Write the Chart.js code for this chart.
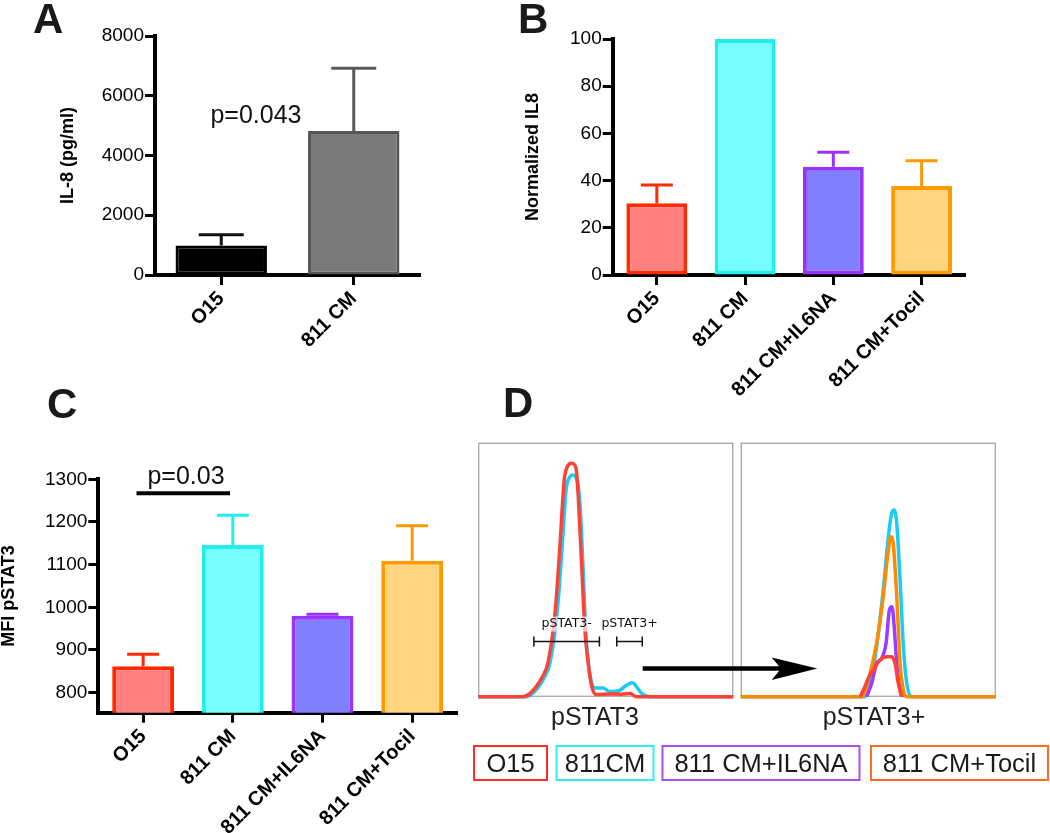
<!DOCTYPE html>
<html>
<head>
<meta charset="utf-8">
<script src="https://cdn.jsdelivr.net/npm/chart.js@4.4.1/dist/chart.umd.min.js"></script>
<style>
  html, body { margin: 0; padding: 0; background: #fff; }
  #fig { position: relative; width: 1050px; height: 833px; overflow: hidden; }
  canvas, svg { position: absolute; }
  svg text { font-family: "Liberation Sans", Arial, sans-serif; }
</style>
</head>
<body>
<div id="fig">
  <canvas id="chart-a" width="440" height="390" style="left:0;top:0"></canvas>
  <canvas id="chart-b" width="520" height="400" style="left:460px;top:0"></canvas>
  <canvas id="chart-c" width="480" height="433" style="left:-10px;top:400px"></canvas>
  <canvas id="chart-d1" width="276" height="276" style="left:468px;top:432px"></canvas>
  <canvas id="chart-d2" width="276" height="276" style="left:730px;top:432px"></canvas>
  <svg width="1050" height="833" style="left:0;top:0">
    <g font-weight="bold" font-size="42" fill="#1a1a1a">
      <text x="33" y="33">A</text>
      <text x="518" y="33">B</text>
      <text x="47" y="418">C</text>
      <text x="503" y="417">D</text>
    </g>
    <text x="256" y="123" font-size="25" text-anchor="middle" fill="#111">p=0.043</text>
    <text x="186" y="484" font-size="25" text-anchor="middle" fill="#111">p=0.03</text>
    <line x1="136.5" y1="493.3" x2="230" y2="493.3" stroke="#000" stroke-width="4"/>
    <line x1="642.7" y1="668.5" x2="782" y2="668.5" stroke="#000" stroke-width="4.5"/>
    <polygon points="817.3,668.5 771.7,657.5 781,668.5 771.7,680" fill="#000"/>
    <g font-size="25" text-anchor="middle" fill="#222">
      <text x="595" y="725">pSTAT3</text>
      <text x="874" y="725">pSTAT3+</text>
    </g>
    <g fill="none" stroke-width="2">
      <rect x="474" y="746" width="73" height="34" stroke="#ff2a2a"/>
      <rect x="556.5" y="746" width="97" height="34" stroke="#2ef0f0"/>
      <rect x="662.5" y="746" width="197" height="34" stroke="#a94ff0"/>
      <rect x="871" y="746" width="177" height="34" stroke="#ff6a2a"/>
    </g>
    <g font-size="25.5" text-anchor="middle" fill="#1a1a1a">
      <text x="510.5" y="771.5">O15</text>
      <text x="605" y="771.5">811CM</text>
      <text x="761" y="771.5">811 CM+IL6NA</text>
      <text x="959.5" y="771.5">811 CM+Tocil</text>
    </g>
  </svg>
</div>
<script>
// A: IL-8 secretion
const il8Groups = ["O15", "811 CM"];
const il8Mean = [990, 4820];
const il8Sem = [360, 2100];

// B and C share the four conditions
const groups = ["O15", "811 CM", "811 CM+IL6NA", "811 CM+Tocil"];
const normIl8Mean = [30.4, 100, 45.9, 37.7];
const normIl8Sem = [7.7, 0, 6.1, 10.7];
const mfiMean = [862, 1146, 980, 1109];
const mfiSem = [28, 70, 4, 82];

// D: histograms, [channel, % of max]
const totalO15 = [[0,0],[17.5,0],[20.3,1.3],[24.9,7.4],[27.3,13.3],[30.1,33],[32,59],[33.7,85.3],[34.9,90.6],[36.6,91.9],[38.3,90],[39.2,78.7],[40.5,52.6],[41.8,26.3],[43.1,13.3],[44.5,3.9],[46.4,0.9],[51.6,1.1],[56.4,1],[59.5,1.3],[62.1,0],[100,0]];
const total811 = [[0,0],[18.3,0],[21.5,1.5],[25.8,7.4],[28.1,13.3],[30.9,33],[32.8,57.8],[34.4,81.4],[35.6,86],[37,87.3],[38.7,85.3],[39.9,75.5],[41.1,49.9],[42.2,24.3],[43.4,11.3],[44.6,5],[45.8,3.4],[48.9,3.4],[51.6,2],[55.6,2.6],[58.2,4.6],[60.5,5.5],[62.1,3.9],[64.1,1.3],[68,0],[100,0]];
const posO15 = [[46.8,0],[48.7,3.9],[50,7.2],[52,10.5],[54.6,14.4],[57.3,15.7],[59.2,15.7],[60.5,13.1],[61.8,5.3],[63.1,0]];
const pos811 = [[0,0],[48.7,0],[50.7,5.4],[53.3,19.7],[55.9,42],[57.9,63],[59.2,72.2],[60.1,73.5],[61.2,68.3],[62.5,45.9],[63.8,19.7],[65.1,5.4],[67.1,0],[100,0]];
const posIl6na = [[49.4,0],[51.4,5.4],[53.3,13.1],[55.3,15.1],[57,21],[58.3,34.1],[59.3,35.4],[60.1,28.9],[61.2,13.1],[62.5,2.6],[63.8,0]];
const posTocil = [[0,0],[47.5,0],[50.7,9.2],[53.3,21.1],[55.9,39.4],[57.9,57.8],[58.9,63],[59.8,60.4],[61.2,39.4],[62.5,13.1],[63.8,2.6],[65.1,0],[100,0]];
const gateNeg = [21.8, 47.5];
const gatePos = [54.3, 64.3];

const FONT = "'Liberation Sans', Arial, sans-serif";
const fills = ["#ff8080", "#77ffff", "#8080ff", "#ffd580"];
const strokes = ["#ff2a00", "#22eeee", "#9933ff", "#ff9a00"];

const errorBars = {
  id: "errorBars",
  afterDatasetsDraw(chart) {
    const ctx = chart.ctx;
    const y = chart.scales.y;
    chart.data.datasets.forEach((ds, i) => {
      chart.getDatasetMeta(i).data.forEach((bar, j) => {
        const err = ds.errors[j];
        if (!err) return;
        const top = y.getPixelForValue(ds.data[j] + err);
        const half = ds.capWidth / 2;
        ctx.save();
        ctx.strokeStyle = ds.errorColor[j];
        ctx.lineWidth = 3;
        ctx.beginPath();
        ctx.moveTo(bar.x, bar.y);
        ctx.lineTo(bar.x, top);
        ctx.moveTo(bar.x - half, top);
        ctx.lineTo(bar.x + half, top);
        ctx.stroke();
        ctx.restore();
      });
    });
  }
};

function barChart(id, o) {
  const cv = document.getElementById(id);
  const axisLine = { display: true, color: "#000", width: 4 };
  const tickGrid = { display: true, drawOnChartArea: false, offset: false, tickLength: 10, tickWidth: 3, tickColor: "#000" };
  return new Chart(cv, {
    type: "bar",
    data: {
      labels: o.labels,
      datasets: [{
        data: o.values,
        errors: o.errors,
        errorColor: o.errColor,
        capWidth: o.cap,
        backgroundColor: o.fill,
        borderColor: o.stroke,
        borderWidth: o.bw,
        borderSkipped: false,
        barPercentage: 0.69,
        categoryPercentage: 1
      }]
    },
    options: {
      responsive: false,
      animation: false,
      layout: { padding: { left: o.axisLeft, top: o.area.top, right: cv.width - o.area.right, bottom: 0 } },
      plugins: { legend: { display: false }, tooltip: { enabled: false } },
      scales: {
        x: {
          grid: tickGrid,
          border: axisLine,
          ticks: { autoSkip: false, minRotation: 45, maxRotation: 45, padding: 2, color: "#000", font: { family: FONT, size: 20, weight: "bold" } },
          afterFit: s => { s.height = cv.height - o.area.bottom; }
        },
        y: {
          min: o.min,
          max: o.max,
          grid: tickGrid,
          border: axisLine,
          ticks: { stepSize: o.step, includeBounds: false, padding: 1, color: "#000", font: { family: FONT, size: 19 }, callback: v => String(v) },
          title: { display: true, text: o.title, color: "#000", padding: 0, font: { family: FONT, size: 18, weight: "bold" } },
          afterBuildTicks: s => { s.ticks = s.ticks.filter(t => t.value % o.step === 0); },
          afterFit: s => { s.width = o.area.left - o.axisLeft; }
        }
      }
    },
    plugins: [errorBars]
  });
}

barChart("chart-a", {
  labels: il8Groups, values: il8Mean, errors: il8Sem,
  fill: ["#000", "#7a7a7a"], stroke: ["#000", "#555"], errColor: ["#111", "#5a5a5a"], bw: 3, cap: 45,
  min: 0, max: 8000, step: 2000, title: "IL-8 (pg/ml)",
  axisLeft: 57, area: { left: 155, top: 36, right: 420, bottom: 275 }
});

barChart("chart-b", {
  labels: groups, values: normIl8Mean, errors: normIl8Sem,
  fill: fills, stroke: strokes, errColor: strokes, bw: 4, cap: 32,
  min: 0, max: 100, step: 20, title: "Normalized IL8",
  axisLeft: 62.5, area: { left: 152.7, top: 39, right: 505.7, bottom: 275 }
});

barChart("chart-c", {
  labels: groups, values: mfiMean, errors: mfiSem,
  fill: fills, stroke: strokes, errColor: strokes, bw: 4, cap: 32,
  min: 753, max: 1300, step: 100, title: "MFI pSTAT3",
  axisLeft: 8.2, area: { left: 108.3, top: 79.3, right: 467, bottom: 312.7 }
});

const frame = {
  id: "frame",
  beforeDatasetsDraw(chart) {
    const { ctx, chartArea: a } = chart;
    ctx.save();
    ctx.strokeStyle = "#8c8c8c";
    ctx.lineWidth = 1;
    ctx.strokeRect(a.left + 0.5, a.top + 0.5, a.width - 1, a.height - 1);
    ctx.restore();
  }
};

const gates = {
  id: "gates",
  afterDatasetsDraw(chart, args, opts) {
    const { ctx, scales: { x, y } } = chart;
    const yb = y.getPixelForValue(opts.level);
    ctx.save();
    ctx.strokeStyle = "#111";
    ctx.lineWidth = 1.5;
    ctx.font = "12.5px 'DejaVu Sans', sans-serif";
    ctx.textAlign = "center";
    ctx.textBaseline = "middle";
    opts.ranges.forEach(([g, label]) => {
      const x0 = x.getPixelForValue(g[0]);
      const x1 = x.getPixelForValue(g[1]);
      const cx = (x0 + x1) / 2;
      const w = ctx.measureText(label).width;
      ctx.fillStyle = "rgba(255,255,255,0.65)";
      ctx.fillRect(cx - w / 2 - 1, yb - 25, w + 2, 15);
      ctx.fillStyle = "#111";
      ctx.fillText(label, cx, yb - 17.4);
      ctx.beginPath();
      ctx.moveTo(x0, yb); ctx.lineTo(x1, yb);
      ctx.moveTo(x0, yb - 5); ctx.lineTo(x0, yb + 5);
      ctx.moveTo(x1, yb - 5); ctx.lineTo(x1, yb + 5);
      ctx.stroke();
    });
    ctx.restore();
  }
};

function histChart(id, series, padding, extra) {
  return new Chart(document.getElementById(id), {
    type: "line",
    data: {
      datasets: series.map(s => ({
        label: s.label,
        data: s.points.map(([x, y]) => ({ x, y })),
        borderColor: s.color,
        borderWidth: 3.5,
        pointRadius: 0,
        cubicInterpolationMode: "monotone",
        fill: false,
        clip: false
      }))
    },
    options: {
      responsive: false,
      animation: false,
      layout: { padding },
      plugins: { legend: { display: false }, tooltip: { enabled: false }, gates: extra.gates },
      scales: {
        x: { type: "linear", min: 0, max: 100, display: false },
        y: { min: 0, max: 100, display: false }
      }
    },
    plugins: [frame].concat(extra.plugins)
  });
}

histChart("chart-d1", [
  { label: "O15", points: totalO15, color: "#ff4238" },
  { label: "811CM", points: total811, color: "#1ccbf5" }
], { left: 10.3, top: 10.7, right: 10.7, bottom: 11.3 }, {
  plugins: [gates],
  gates: { level: 21.7, ranges: [[gateNeg, "pSTAT3-"], [gatePos, "pSTAT3+"]] }
});

histChart("chart-d2", [
  { label: "O15", points: posO15, color: "#ff4238" },
  { label: "811 CM+Tocil", points: posTocil, color: "#ff8a00" },
  { label: "811 CM+IL6NA", points: posIl6na, color: "#9b3cff" },
  { label: "811CM", points: pos811, color: "#1ccbf5" }
], { left: 10.7, top: 10.7, right: 10.3, bottom: 11.3 }, { plugins: [] });
</script>
</body>
</html>
